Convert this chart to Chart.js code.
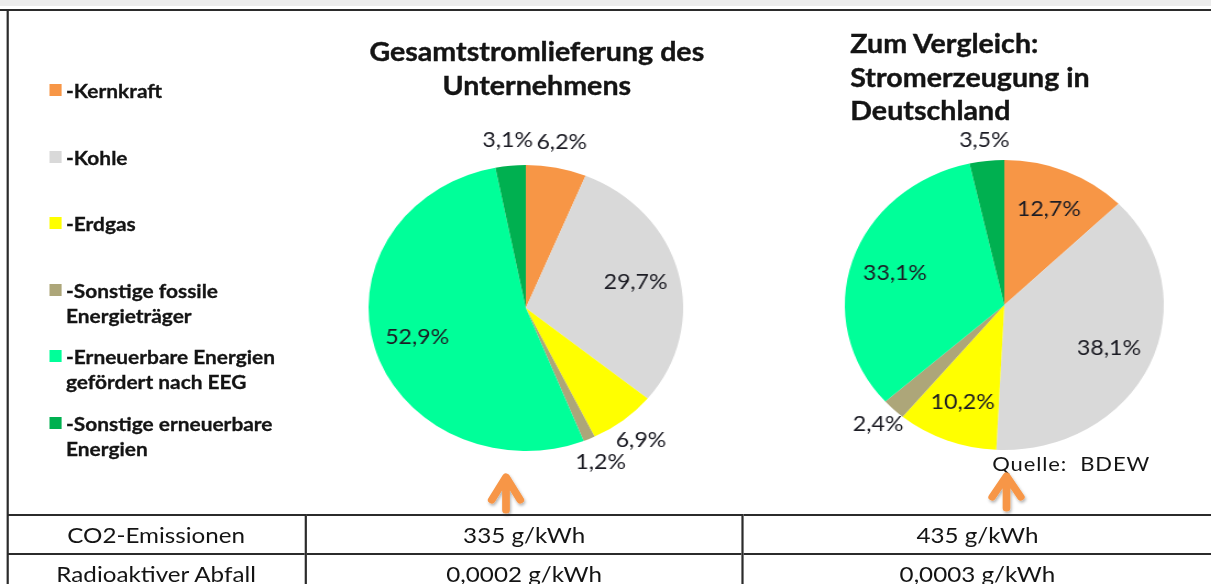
<!DOCTYPE html>
<html>
<head>
<meta charset="utf-8">
<script src="https://cdn.jsdelivr.net/npm/chart.js@4.4.1/dist/chart.umd.min.js"></script>
<style>
html,body{margin:0;padding:0;background:#fff;width:1211px;height:584px;overflow:hidden}
#page{position:absolute;left:0;top:0;width:1101px;height:584px;transform:scaleX(1.1);transform-origin:0 0;font-family:Lato,sans-serif;color:#141414}
.topband{position:absolute;left:0;top:0;width:1101px;height:6px;background:#ececec}
.topline{position:absolute;left:0;top:9px;width:1101px;height:2px;background:#2b2b2b}
.leftline{position:absolute;left:6px;top:9px;width:2px;height:575px;background:#2b2b2b}
.legend{position:absolute;left:45px;top:0}
.legend .item{position:absolute;left:0;width:240px}
.legend .sw{position:absolute;left:0;top:6px;width:11px;height:12px}
.legend .txt{position:absolute;left:15px;top:0;font-weight:700;font-size:19px;line-height:25px;white-space:pre;-webkit-text-stroke:0.3px #141414}
.title{position:absolute;font-weight:700;font-size:26px;line-height:33.5px;white-space:pre;-webkit-text-stroke:0.4px #141414}
canvas{position:absolute}
.quelle{position:absolute;left:902px;top:451px;font-size:20px;letter-spacing:0.8px}
table{position:absolute;left:7px;top:514px;border-collapse:collapse;font-size:22px}
td{border-top:2px solid #2b2b2b;height:37px;text-align:center;padding:0;vertical-align:middle}
td+td{border-left:2px solid #2b2b2b}
</style>
</head>
<body>
<div id="page">
<div class="topband"></div>
<div class="topline"></div>
<div class="leftline"></div>
<div class="legend" id="legend"></div>
<div class="title" style="left:488px;top:35px;transform:translateX(-50%);text-align:center">Gesamtstromlieferung des
Unternehmens</div>
<div class="title" style="left:773px;top:27px">Zum Vergleich:
Stromerzeugung in
Deutschland</div>
<canvas id="pieCompany" width="380" height="380" style="left:288px;top:118px"></canvas>
<canvas id="pieGermany" width="380" height="380" style="left:723px;top:115px"></canvas>
<div class="quelle">Quelle:&nbsp; BDEW</div>
<svg width="1101" height="584" style="position:absolute;left:0;top:0">
<defs><filter id="sh" x="-50%" y="-50%" width="200%" height="200%"><feDropShadow dx="1" dy="2" stdDeviation="1.5" flood-color="#000" flood-opacity="0.3"/></filter></defs>
<g stroke="#F79646" stroke-width="7" stroke-linecap="round" stroke-linejoin="round" fill="none" filter="url(#sh)">
<path d="M447 500 L460 477 L473 500 M460 480 L460 510"/>
<path d="M902 497 L915 476 L928 497 M915 479 L915 508"/>
</g>
</svg>
<table id="tbl"></table>
</div>
<script>
// DATA
const categories = ["-Kernkraft", "-Kohle", "-Erdgas", "-Sonstige fossile\nEnergieträger", "-Erneuerbare Energien\ngefördert nach EEG", "-Sonstige erneuerbare\nEnergien"];
const companyShares = [6.2, 29.7, 6.9, 1.2, 52.9, 3.1];
const germanyShares = [12.7, 38.1, 10.2, 2.4, 33.1, 3.5];
const tableLabels = ["CO2-Emissionen", "Radioaktiver Abfall"];
const companyValues = ["335 g/kWh", "0,0002 g/kWh"];
const germanyValues = ["435 g/kWh", "0,0003 g/kWh"];

const colors = ["#F79646", "#D9D9D9", "#FFFF00", "#ADA679", "#00FF99", "#00B050"];

// LEGEND
const legend = document.getElementById("legend");
categories.forEach((c, i) => {
const item = document.createElement("div");
item.className = "item";
item.style.top = (78 + i * 66.6) + "px";
item.innerHTML = '<div class="sw" style="background:' + colors[i] + '"></div><div class="txt"></div>';
item.querySelector(".txt").textContent = c;
legend.appendChild(item);
});

// TABLE
const tbl = document.getElementById("tbl");
tableLabels.forEach((l, i) => {
const tr = document.createElement("tr");
[[l, 272], [companyValues[i], 400], [germanyValues[i], 430]].forEach(([t, w]) => {
const td = document.createElement("td");
td.textContent = t;
td.style.width = w + "px";
tr.appendChild(td);
});
tbl.appendChild(tr);
});

// PIE LABELS
function pieLabels(outside) {
return {
id: "pieLabels",
afterDatasetsDraw(chart) {
const ctx = chart.ctx;
const data = chart.data.datasets[0].data;
ctx.save();
ctx.font = "21px Lato";
ctx.fillStyle = "#1c1c24";
ctx.textAlign = "center";
ctx.textBaseline = "middle";
chart.getDatasetMeta(0).data.forEach((arc, i) => {
const p = arc.getProps(["x", "y", "startAngle", "endAngle", "outerRadius"], true);
const mid = (p.startAngle + p.endAngle) / 2;
const f = data[i] < 8 ? outside : 0.72;
const x = p.x + Math.cos(mid) * p.outerRadius * f;
const y = p.y + Math.sin(mid) * p.outerRadius * f;
ctx.fillText(data[i].toFixed(1).replace(".", ",") + "%", x, y);
});
ctx.restore();
}
};
}

function makePie(id, values, pad, outside) {
return new Chart(document.getElementById(id), {
type: "pie",
data: {
labels: categories,
datasets: [{ data: values, backgroundColor: colors, borderWidth: 0 }]
},
options: {
responsive: false,
animation: false,
devicePixelRatio: 1,
layout: { padding: pad },
plugins: { legend: { display: false }, tooltip: { enabled: false } }
},
plugins: [pieLabels(outside)]
});
}

makePie("pieCompany", companyShares, 47, 1.18);
makePie("pieGermany", germanyShares, 45, 1.14);
</script>
</body>
</html>
